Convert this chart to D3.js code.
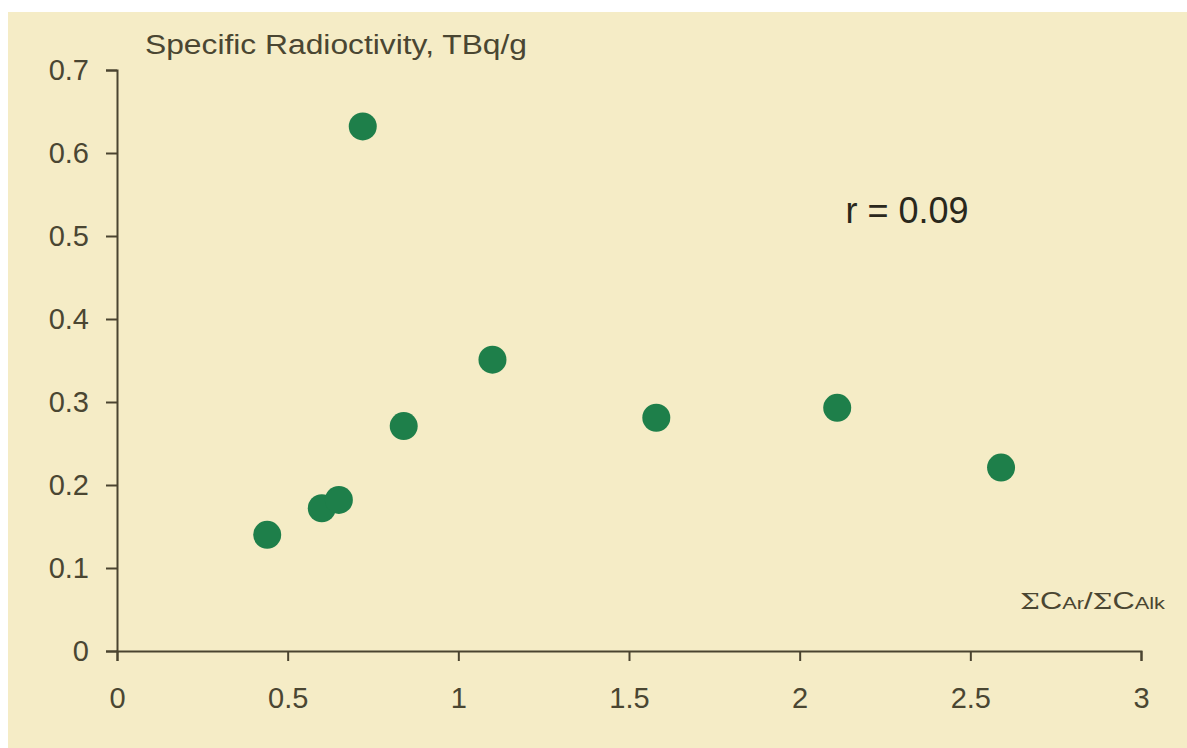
<!DOCTYPE html>
<html>
<head>
<meta charset="utf-8">
<script src="https://cdn.jsdelivr.net/npm/d3@7"></script>
<style>
  body { margin: 0; background: #fff; }
  text { font-family: "Liberation Sans", Arial, sans-serif; }
</style>
</head>
<body>
<div id="scatter"></div>
<script>
// ratio of aromatic to alkane carbon vs specific radioactivity
var ratio = [0.44, 0.60, 0.65, 0.72, 0.84, 1.10, 1.58, 2.11, 2.59];
var activity = [0.14, 0.172, 0.182, 0.632, 0.271, 0.351, 0.281, 0.293, 0.221];
var xTicks = [0, 0.5, 1, 1.5, 2, 2.5, 3];
var yTicks = [0, 0.1, 0.2, 0.3, 0.4, 0.5, 0.6, 0.7];

var svgWidth = 1187;
var svgHeight = 748;

var margin = { top: 70, right: 46, bottom: 97, left: 117 };
var width = svgWidth - margin.left - margin.right;
var height = svgHeight - margin.top - margin.bottom;

var axisColor = "#4a4430";
var textColor = "#4a4632";

var svg = d3.select("#scatter")
  .append("svg")
  .attr("width", svgWidth)
  .attr("height", svgHeight);

svg.append("rect")
  .attr("x", 8)
  .attr("y", 12)
  .attr("width", svgWidth - 8)
  .attr("height", svgHeight - 12)
  .attr("fill", "#f5ecc6");

var chartGroup = svg.append("g")
  .attr("transform", `translate(${margin.left}, ${margin.top})`);

var x = d3.scaleLinear().domain([0, 3]).range([0, width]);
var y = d3.scaleLinear().domain([0, 0.7]).range([height, 0]);

var bottomAxis = d3.axisBottom(x).tickValues(xTicks).tickSize(10).tickPadding(26)
  .tickFormat(d => d3.format("")(d));
var leftAxis = d3.axisLeft(y).tickValues(yTicks).tickSize(11).tickPadding(17)
  .tickFormat(d => d3.format("")(+d.toFixed(1)));

var xg = chartGroup.append("g")
  .attr("transform", `translate(0, ${height})`)
  .call(bottomAxis);

var yg = chartGroup.append("g")
  .call(leftAxis);

[xg, yg].forEach(function(g) {
  g.select(".domain").attr("stroke", axisColor).attr("stroke-width", 2);
  g.selectAll(".tick line").attr("stroke", axisColor).attr("stroke-width", 2);
  g.selectAll(".tick text")
    .attr("fill", textColor)
    .attr("font-size", "29px")
    .style("font-family", "'Liberation Sans', Arial, sans-serif");
});

chartGroup.selectAll("circle")
  .data(ratio)
  .enter()
  .append("circle")
  .attr("cx", d => x(d))
  .attr("cy", (d, i) => y(activity[i]))
  .attr("r", 14)
  .attr("fill", "#1e7f4a");

chartGroup.append("text")
  .attr("x", 28)
  .attr("y", -16)
  .attr("fill", textColor)
  .attr("font-size", "27px")
  .attr("textLength", 382)
  .attr("lengthAdjust", "spacingAndGlyphs")
  .text("Specific Radioctivity, TBq/g");

chartGroup.append("text")
  .attr("x", x(2.14) - 2)
  .attr("y", y(0.5) - 13)
  .attr("fill", "#2a281c")
  .attr("font-size", "36px")
  .text("r = 0.09");

var xLabel = chartGroup.append("text")
  .attr("x", width - 121)
  .attr("y", height - 42)
  .attr("fill", textColor)
  .attr("font-size", "24px")
  .attr("textLength", 145)
  .attr("lengthAdjust", "spacingAndGlyphs");
xLabel.append("tspan").style("font-family", "'DejaVu Serif', serif").attr("font-size", "22px").text("\u03A3");
xLabel.append("tspan").text("C");
xLabel.append("tspan").attr("font-size", "17px").text("Ar");
xLabel.append("tspan").text("/");
xLabel.append("tspan").style("font-family", "'DejaVu Serif', serif").attr("font-size", "22px").text("\u03A3");
xLabel.append("tspan").text("C");
xLabel.append("tspan").attr("font-size", "17px").text("Alk");
</script>
</body>
</html>
